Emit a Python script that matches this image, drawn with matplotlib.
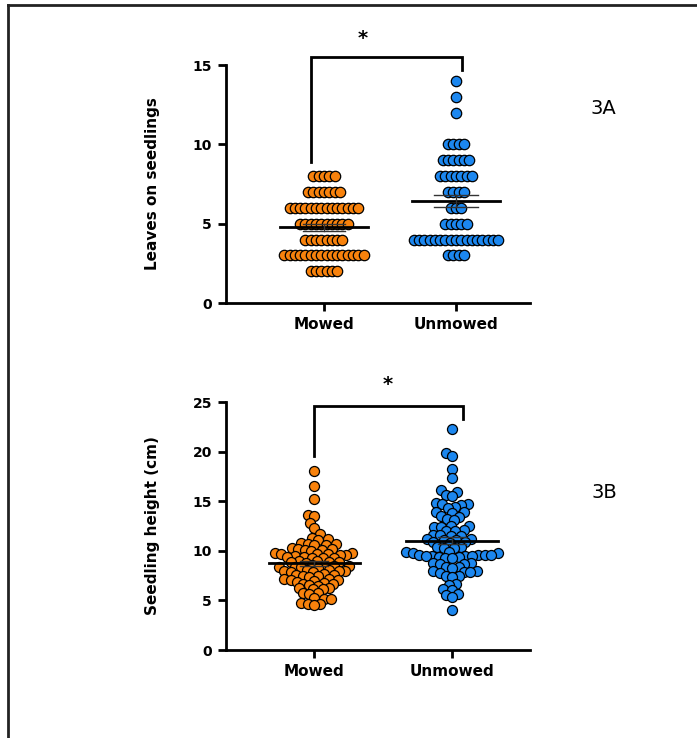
import numpy as np
import matplotlib
matplotlib.use("Agg")
import matplotlib.pyplot as plt
from matplotlib.lines import Line2D

# ---------------- data ----------------
categories = ["Mowed", "Unmowed"]

# Panel 3A: leaves on seedlings (value: count)
leaves_mowed_vals = [8, 7, 6, 5, 4, 3, 2]
leaves_mowed_counts = [5, 7, 14, 10, 8, 16, 6]
leaves_unmowed_vals = [14, 13, 12, 10, 9, 8, 7, 6, 5, 4, 3]
leaves_unmowed_counts = [1, 1, 1, 4, 6, 7, 4, 3, 5, 17, 4]

# Panel 3B: seedling height (cm)
height_mowed = [18.0, 16.5, 15.2, 13.6, 13.5, 12.8, 12.3, 11.7, 11.3, 11.2, 11.1,
                10.8, 10.7, 10.7, 10.6, 10.6, 10.3, 10.2, 10.2, 10.1, 10.1, 10.0,
                9.8, 9.8, 9.7, 9.7, 9.7, 9.6, 9.6, 9.5, 9.4, 9.4, 9.3, 9.3, 9.3,
                9.0, 9.0, 8.9, 8.9, 8.9, 8.8, 8.6, 8.5, 8.5, 8.5, 8.4, 8.4, 8.4,
                8.3, 8.1, 8.1, 8.0, 8.0, 8.0, 7.9, 7.9, 7.7, 7.6, 7.6, 7.5, 7.5,
                7.4, 7.2, 7.2, 7.1, 7.1, 7.0, 6.9, 6.8, 6.7, 6.7, 6.6, 6.5, 6.2,
                6.2, 6.1, 6.1, 5.7, 5.7, 5.6, 5.2, 5.1, 5.1, 4.7, 4.6, 4.6, 4.5]
height_unmowed = [22.3, 19.9, 19.6, 18.2, 17.3, 16.1, 15.9, 15.6, 15.5, 14.8, 14.7,
                  14.7, 14.6, 14.4, 14.3, 13.9, 13.9, 13.8, 13.5, 13.4, 13.2, 13.1,
                  12.5, 12.5, 12.4, 12.4, 12.1, 12.0, 12.0, 11.6, 11.6, 11.5, 11.5,
                  11.2, 11.2, 11.1, 11.1, 10.9, 10.9, 10.8, 10.4, 10.4, 10.3, 10.3,
                  9.9, 9.9, 9.8, 9.8, 9.6, 9.6, 9.6, 9.6, 9.5, 9.5, 9.5, 9.5, 9.4,
                  9.4, 9.3, 9.3, 8.8, 8.8, 8.7, 8.7, 8.4, 8.4, 8.3, 8.0, 8.0, 7.9,
                  7.9, 7.8, 7.5, 7.5, 7.4, 6.7, 6.6, 6.1, 6.0, 5.6, 5.5, 5.3, 4.0]

ylabels = ["Leaves on seedlings", "Seedling height (cm)"]
panel_labels = ["3A", "3B"]
colors = ["#f8820c", "#1c87ef"]

# ---------------- helpers ----------------
def expand(vals, counts):
    out = []
    for v, c in zip(vals, counts):
        out += [v] * c
    return np.array(out, dtype=float)


def row_offsets(values, spacing):
    values = np.asarray(values)
    xs = np.zeros_like(values)
    for v in np.unique(values):
        idx = np.where(values == v)[0]
        n = len(idx)
        xs[idx] = (np.arange(n) - (n - 1) / 2.0) * spacing
    return xs


def swarm(values, px_per_x, px_per_y, dmin):
    values = np.asarray(values, dtype=float)
    order = np.argsort(values)
    placed = []
    xs = np.zeros_like(values)
    for i in order:
        y = values[i] * px_per_y
        cands = [0.0]
        for (px, py) in placed:
            dy = abs(py - y)
            if dy < dmin:
                dx = np.sqrt(dmin ** 2 - dy ** 2)
                cands += [px + dx, px - dx]
        cands = sorted(cands, key=lambda c: (abs(c), c))
        for c in cands:
            ok = True
            for (px, py) in placed:
                if (px - c) ** 2 + (py - y) ** 2 < dmin ** 2 - 1e-6:
                    ok = False
                    break
            if ok:
                xs[i] = c
                placed.append((c, y))
                break
    return xs / px_per_x


def mean_sem(ax, x, vals, half_mean, half_sem):
    m = np.mean(vals)
    s = np.std(vals, ddof=1) / np.sqrt(len(vals))
    ax.plot([x - half_mean, x + half_mean], [m, m], color="black", lw=2, zorder=5)
    ax.plot([x - half_sem, x + half_sem], [m + s, m + s], color="#333333", lw=1, zorder=5)
    ax.plot([x - half_sem, x + half_sem], [m - s, m - s], color="#333333", lw=1, zorder=5)
    ax.plot([x, x], [m - s, m + s], color="#333333", lw=1, zorder=5)


def style_axes(ax, ylim, yticks, xlim):
    ax.set_ylim(*ylim)
    ax.set_xlim(*xlim)
    ax.set_yticks(yticks)
    ax.set_yticklabels([str(t) for t in yticks], fontweight="bold", fontsize=10)
    ax.set_xticks([0, 1])
    ax.set_xticklabels(categories, fontweight="bold", fontsize=11)
    for sp in ["top", "right"]:
        ax.spines[sp].set_visible(False)
    for sp in ["left", "bottom"]:
        ax.spines[sp].set_linewidth(2)
    ax.tick_params(axis="both", width=2, length=6, direction="out", pad=4)


# ---------------- figure ----------------
fig = plt.figure(figsize=(6.97, 7.38), dpi=100)

fig.add_artist(Line2D([8 / 697, 8 / 697], [0, 1 - 5 / 738], transform=fig.transFigure,
                      color="#222222", lw=2))
fig.add_artist(Line2D([8 / 697, 1], [1 - 5 / 738, 1 - 5 / 738], transform=fig.transFigure,
                      color="#222222", lw=2))

# ---- Panel 3A ----
ax1 = fig.add_axes([226 / 697, 1 - 303 / 738, 304 / 697, 238 / 738])
lm = expand(leaves_mowed_vals, leaves_mowed_counts)
lu = expand(leaves_unmowed_vals, leaves_unmowed_counts)
for k, vals in enumerate([lm, lu]):
    xs = k + row_offsets(vals, 0.040)
    ax1.scatter(xs, vals, s=56, color=colors[k], edgecolor="black", linewidth=0.9, zorder=3)
mean_sem(ax1, 0, lm, 0.33, 0.16)
mean_sem(ax1, 1, lu, 0.33, 0.17)
style_axes(ax1, (0, 15), [0, 5, 10, 15], (-0.742, 1.56))
ax1.set_ylabel(ylabels[0], fontweight="bold", fontsize=11)
ax1.yaxis.set_label_coords(-0.218, 0.5)
ax1.plot([-0.1, -0.1, 1.045, 1.045], [8.9, 15.5, 15.5, 14.7], color="black", lw=2,
         clip_on=False, solid_joinstyle="miter")
ax1.text(0.295, 16.7, "*", ha="center", va="center", fontsize=14, fontweight="bold")
fig.text(603 / 697, 1 - 108 / 738, panel_labels[0], ha="center", va="center", fontsize=14)

# ---- Panel 3B ----
ax2 = fig.add_axes([226 / 697, 1 - 650 / 738, 304 / 697, 248 / 738])
xs_m = swarm(height_mowed, 138.0, 9.92, 6.4)
xs_u = swarm(height_unmowed, 138.0, 9.92, 6.6)
ax2.scatter(0 + xs_m, height_mowed, s=52, color=colors[0], edgecolor="black", linewidth=0.9, zorder=3)
ax2.scatter(1 + xs_u, height_unmowed, s=52, color=colors[1], edgecolor="black", linewidth=0.9, zorder=3)
mean_sem(ax2, 0, height_mowed, 0.33, 0.1)
mean_sem(ax2, 1, height_unmowed, 0.33, 0.1)
style_axes(ax2, (0, 25), [0, 5, 10, 15, 20, 25], (-0.638, 1.565))
ax2.set_ylabel(ylabels[1], fontweight="bold", fontsize=11)
ax2.yaxis.set_label_coords(-0.218, 0.5)
ax2.plot([0.0, 0.0, 1.077, 1.077], [19.6, 24.6, 24.6, 23.3], color="black", lw=2,
         clip_on=False, solid_joinstyle="miter")
ax2.text(0.536, 26.8, "*", ha="center", va="center", fontsize=14, fontweight="bold")
fig.text(604 / 697, 1 - 492 / 738, panel_labels[1], ha="center", va="center", fontsize=14)

fig.savefig("out.png", dpi=100)
